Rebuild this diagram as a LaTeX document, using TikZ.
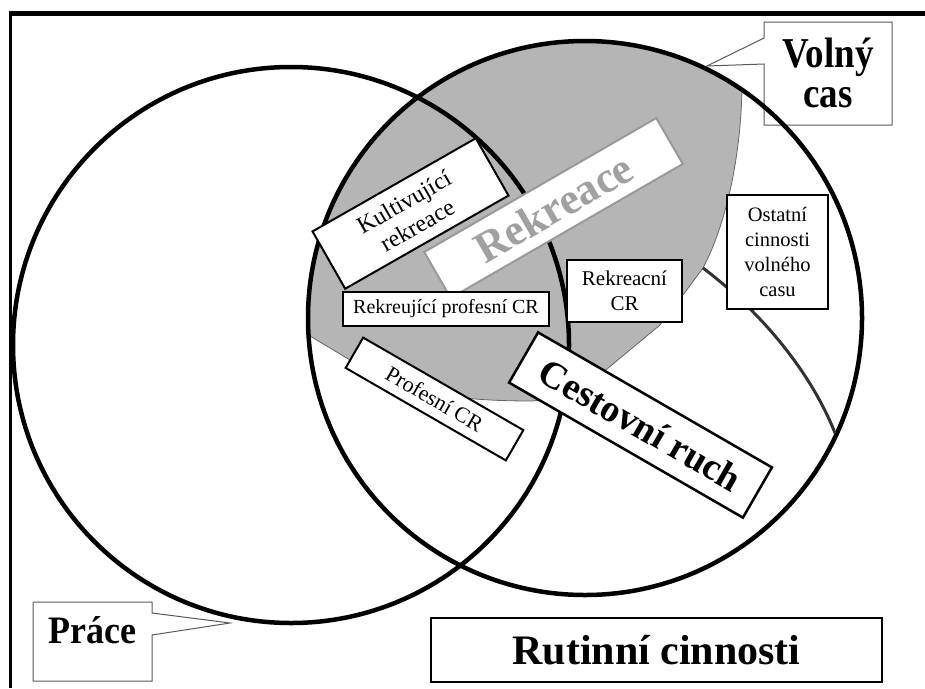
\documentclass[tikz,border=0pt]{standalone}
\usepackage{fontspec}
\setmainfont{Liberation Serif}
\definecolor{greyfill}{RGB}{181,181,181}
\definecolor{greytext}{RGB}{160,160,160}
\definecolor{divline}{RGB}{50,50,50}
\begin{document}
\begin{tikzpicture}[x=1pt,y=-1pt,
  box/.style={draw=black, line width=2pt, fill=white, inner sep=0pt, align=center,
    font=\fontsize{21}{25}\selectfont},
  bigtext/.style={font=\bfseries\fontsize{#1}{#1}\selectfont},
  callout/.style={draw=black!65, line width=1pt, fill=white},
  ring/.style={draw=black, line width=4.5pt, circle, inner sep=0pt, outer sep=0pt}]
\useasboundingbox (0,0) rectangle (925,688);
% frame
\draw[line width=5pt] (9,13.3) -- (925,13.3);
\draw[line width=3pt] (10.7,11) -- (10.7,688);
% grey region (Rekreace)
\begin{scope}
  \clip (585,318) circle[radius=277pt];
  \fill[greyfill] (300,330) -- (350,360) .. controls (400,392) and (450,401) .. (533,401)
    -- (575,395) -- (607,369) -- (660,325) -- (683,295) -- (703,268)
    .. controls (722,232) and (740,170) .. (742,90) -- (742,0) -- (300,0) -- cycle;
  \draw[black!60, line width=0.8pt] (300,330) -- (350,360) .. controls (400,392) and (450,401) .. (533,401)
    -- (575,395) -- (607,369) -- (660,325) -- (683,295) -- (703,268)
    .. controls (722,232) and (740,170) .. (742,90) -- (742,0);
\end{scope}
% callouts
\coordinate (vtip) at (707,66);
\coordinate (ptip) at (230,623);
\draw[callout] (764,22) -- (892,22) -- (892,125) -- (764,125) -- (764,64) -- (vtip) -- (764,38) -- cycle;
\node[bigtext=37, inner sep=0pt, anchor=base] (volny1) at (828,67) {\scalebox{1}[1.15]{Volný}};
\node[bigtext=37, inner sep=0pt, anchor=base] (volny2) at (828,107) {\scalebox{1}[1.15]{cas}};
\draw[callout] (33,602) -- (152,602) -- (152,613) -- (ptip) -- (152,635) -- (152,681) -- (33,681) -- cycle;
\node[bigtext=36, inner sep=0pt, anchor=base] (prace) at (92,643) {\scalebox{1}[1.08]{Práce}};
% circles
\node[ring, minimum size=556pt] (pracec) at (291,345) {};
\node[ring, minimum size=554pt] (volnyc) at (585,318) {};
% divider
\draw[line width=3pt, divline] (703,268) .. controls (765,315) and (812,375) .. (835,433);
% boxes
\node[box, rotate=29.7, minimum width=188pt, minimum height=66pt, font=\fontsize{24}{27}\selectfont] (kult) at (410.5,213.5) {Kultivující\\rekreace};
\node[box, draw=black!40, rotate=30, minimum width=268pt, minimum height=53pt, bigtext=44, text=greytext] (rekr) at (553.5,208) {Rekreace};
\node[box, minimum width=206pt, minimum height=34pt, font=\fontsize{20}{24}\selectfont] (rpcr) at (446,309) {Rekreující profesní CR};
\node[box, minimum width=115pt, minimum height=62pt] (rcr) at (624.5,291) {Rekreacní\\CR};
\node[box, minimum width=101pt, minimum height=114pt, font=\fontsize{20.5}{25}\selectfont] (ost) at (777.5,252) {Ostatní\\cinnosti\\volného\\casu};
\node[box, rotate=-30, minimum width=185pt, minimum height=35pt, font=\fontsize{22}{25}\selectfont] (pcr) at (434.5,399) {Profesní CR};
\node[box, rotate=-30, minimum width=270pt, minimum height=58pt, line width=2.5pt, bigtext=38] (cr) at (640.5,425) {Cestovní ruch};
\node[box, minimum width=451pt, minimum height=64pt, bigtext=42] (rut) at (656.5,650) {Rutinní cinnosti};
\end{tikzpicture}
\end{document}
